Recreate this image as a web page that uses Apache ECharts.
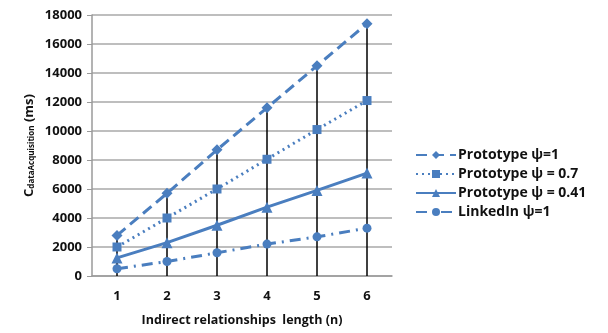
<!DOCTYPE html>
<html><head><meta charset="utf-8">
<script src="https://cdn.jsdelivr.net/npm/echarts@6/dist/echarts.min.js"></script>
<style>html,body{margin:0;padding:0;background:#fff}#c{width:608px;height:333px}</style>
</head><body><div id="c"></div>
<script>
const categories = ['1','2','3','4','5','6'];
const proto1 = [2800, 5700, 8700, 11600, 14500, 17400];
const proto07 = [2000, 4000, 6000, 8050, 10100, 12100];
const proto041 = [1250, 2300, 3500, 4750, 5900, 7100];
const linkedin = [500, 1000, 1600, 2200, 2700, 3300];
const seriesNames = ['Prototype \u03c8=1', 'Prototype \u03c8 = 0.7', 'Prototype \u03c8 = 0.41', 'LinkedIn \u03c8=1'];
const dropLines = categories.map((c, i) => Math.max(proto1[i], proto07[i], proto041[i], linkedin[i]));

const blue = '#4a7ebf';
const font = 'Open Sans';
const chart = echarts.init(document.getElementById('c'));
function lineS(name, data, symbol, size, type) {
  return {
    name, type: 'line', data, symbol, symbolSize: size,
    itemStyle: { color: blue },
    lineStyle: { color: blue, width: 3, type, cap: 'butt' },
    z: 5
  };
}
chart.setOption({
  animation: false,
  grid: { left: 92, right: 216, top: 15, bottom: 57 },
  xAxis: {
    type: 'category', data: categories, boundaryGap: true,
    axisLine: { lineStyle: { color: '#9a9a9a', width: 1.5 } },
    axisTick: { show: false },
    axisLabel: { color: '#111', fontWeight: 'bold', fontSize: 13, fontFamily: font, margin: 14 },
    name: 'Indirect relationships  length (n)', nameLocation: 'middle', nameGap: 38,
    nameTextStyle: { color: '#111', fontWeight: 'bold', fontSize: 12.5, fontFamily: font }
  },
  yAxis: {
    type: 'value', min: 0, max: 18000, interval: 2000,
    axisLine: { show: true, lineStyle: { color: '#9a9a9a', width: 1.5 } },
    axisTick: { show: true, length: 5, lineStyle: { color: '#9a9a9a' } },
    splitLine: { lineStyle: { color: '#a8a8a8', width: 1.5 } },
    axisLabel: { color: '#111', fontWeight: 'bold', fontSize: 13, fontFamily: font, margin: 10, formatter: v => String(v) },
    name: '{c|C}{s|dataAcquisition}{c| (ms)}', nameLocation: 'middle', nameGap: 56,
    nameTextStyle: {
      rich: {
        c: { fontSize: 13, fontWeight: 'bold', color: '#111', fontFamily: font },
        s: { fontSize: 8, fontWeight: 'bold', color: '#111', fontFamily: font, verticalAlign: 'bottom', padding: [6, 0, 0, 0] }
      }
    }
  },
  legend: {
    orient: 'vertical', left: 410, top: 143, itemWidth: 40, itemHeight: 10, itemGap: 5,
    data: seriesNames,
    textStyle: { color: '#111', fontWeight: 'bold', fontSize: 14, fontFamily: font, padding: [0, 0, 0, -3] }
  },
  series: [
    {
      name: 'drop', type: 'bar', data: dropLines, barWidth: 1.5,
      itemStyle: { color: '#000' }, z: 3, silent: true
    },
    lineS(seriesNames[0], proto1, 'diamond', 11, [11, 6]),
    lineS(seriesNames[1], proto07, 'rect', 9, [2, 4]),
    lineS(seriesNames[2], proto041, 'triangle', 11, 'solid'),
    lineS(seriesNames[3], linkedin, 'circle', 9, [11, 6, 2, 6])
  ]
});
</script></body></html>
